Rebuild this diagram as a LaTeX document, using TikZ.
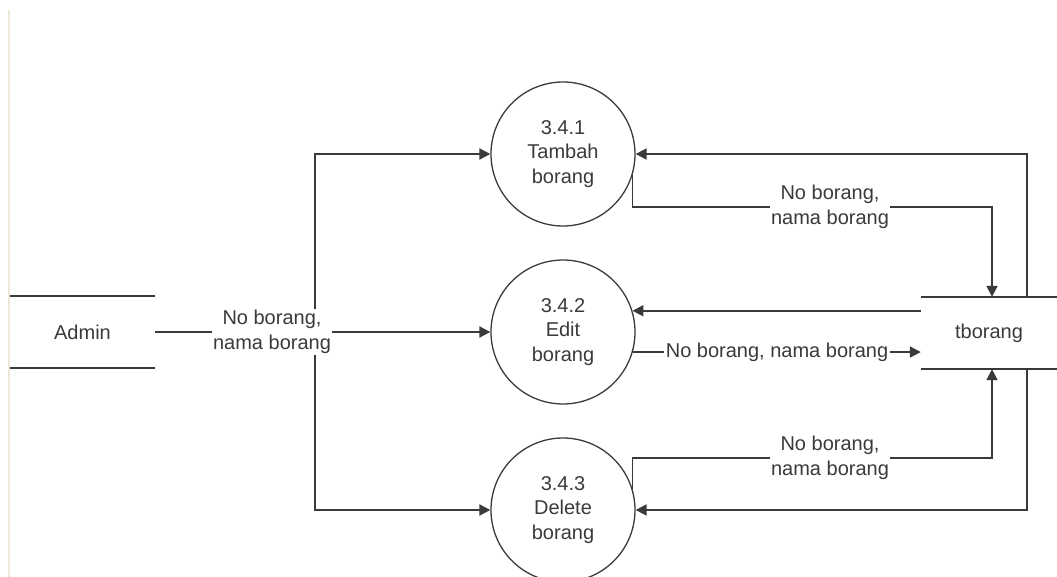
\documentclass[tikz,border=0pt]{standalone}
\usepackage{fontspec}
\setmainfont{Liberation Sans}
\usetikzlibrary{arrows.meta,backgrounds}
\definecolor{ink}{HTML}{3A3A3A}
\definecolor{rule}{HTML}{EDE8D8}
\begin{document}
\begin{tikzpicture}[x=1pt,y=-1pt,
  every node/.style={font=\fontsize{20}{24.5}\selectfont, text=ink},
  proc/.style={circle, draw=ink, line width=1.3pt, minimum size=144pt, inner sep=0pt, align=center},
  store/.style={minimum height=72pt, inner sep=0pt},
  flowlabel/.style={fill=white, inner sep=1.5pt, align=center},
  plain/.style={draw=ink, line width=1.9pt},
  flow/.style={plain, -{Triangle[length=11pt,width=11pt]}}]

\useasboundingbox (0,0) rectangle (1057,577);
\draw[rule, line width=2pt] (8.5,10) -- (8.5,577);

% data stores (open-ended, top and bottom rules only)
\node[store, minimum width=145pt] (admin) at (82.5,332) {Admin};
\draw[plain] (admin.north west) -- (admin.north east)
             (admin.south west) -- (admin.south east);
\node[store, minimum width=136pt] (tb) at (989,333) {tborang};
\draw[plain] (tb.north west) -- (tb.north east)
             (tb.south west) -- (tb.south east);

% processes
\node[proc] (p1) at (563,154) {3.4.1\\Tambah\\borang};
\node[proc] (p2) at (563,332) {3.4.2\\Edit\\borang};
\node[proc] (p3) at (563,510) {3.4.3\\Delete\\borang};

% flow labels
\node[flowlabel] (l0) at (272,332) {No borang,\\nama borang};
\node[flowlabel] (l1) at (830,207) {No borang,\\nama borang};
\node[flowlabel] (l2) at (777,352) {No borang, nama borang};
\node[flowlabel] (l3) at (830,458) {No borang,\\nama borang};

% bend points
\coordinate (split) at (315,332);
\coordinate (rcol) at (1027,332);
\coordinate (b1) at (992,207);
\coordinate (b3) at (992,458);

\begin{pgfonlayer}{background}
  \draw[plain] (admin.east) -- (split);
  \draw[flow] (split) -- (p2.west);
  \draw[flow] (split) |- (p1.west);
  \draw[flow] (split) |- (p3.west);
  \draw[flow] (tb.north -| rcol) |- (p1.east);
  \draw[flow] (tb.south -| rcol) |- (p3.east);
  \draw[flow] (p1.-17) |- (b1) -- (b1 |- tb.north);
  \draw[flow] (tb.west |- p2.17) -- (p2.17);
  \draw[flow] (p2.-16) -- (p2.-16 -| tb.west);
  \draw[flow] (p3.17) |- (b3) -- (b3 |- tb.south);
\end{pgfonlayer}
\end{tikzpicture}
\end{document}
